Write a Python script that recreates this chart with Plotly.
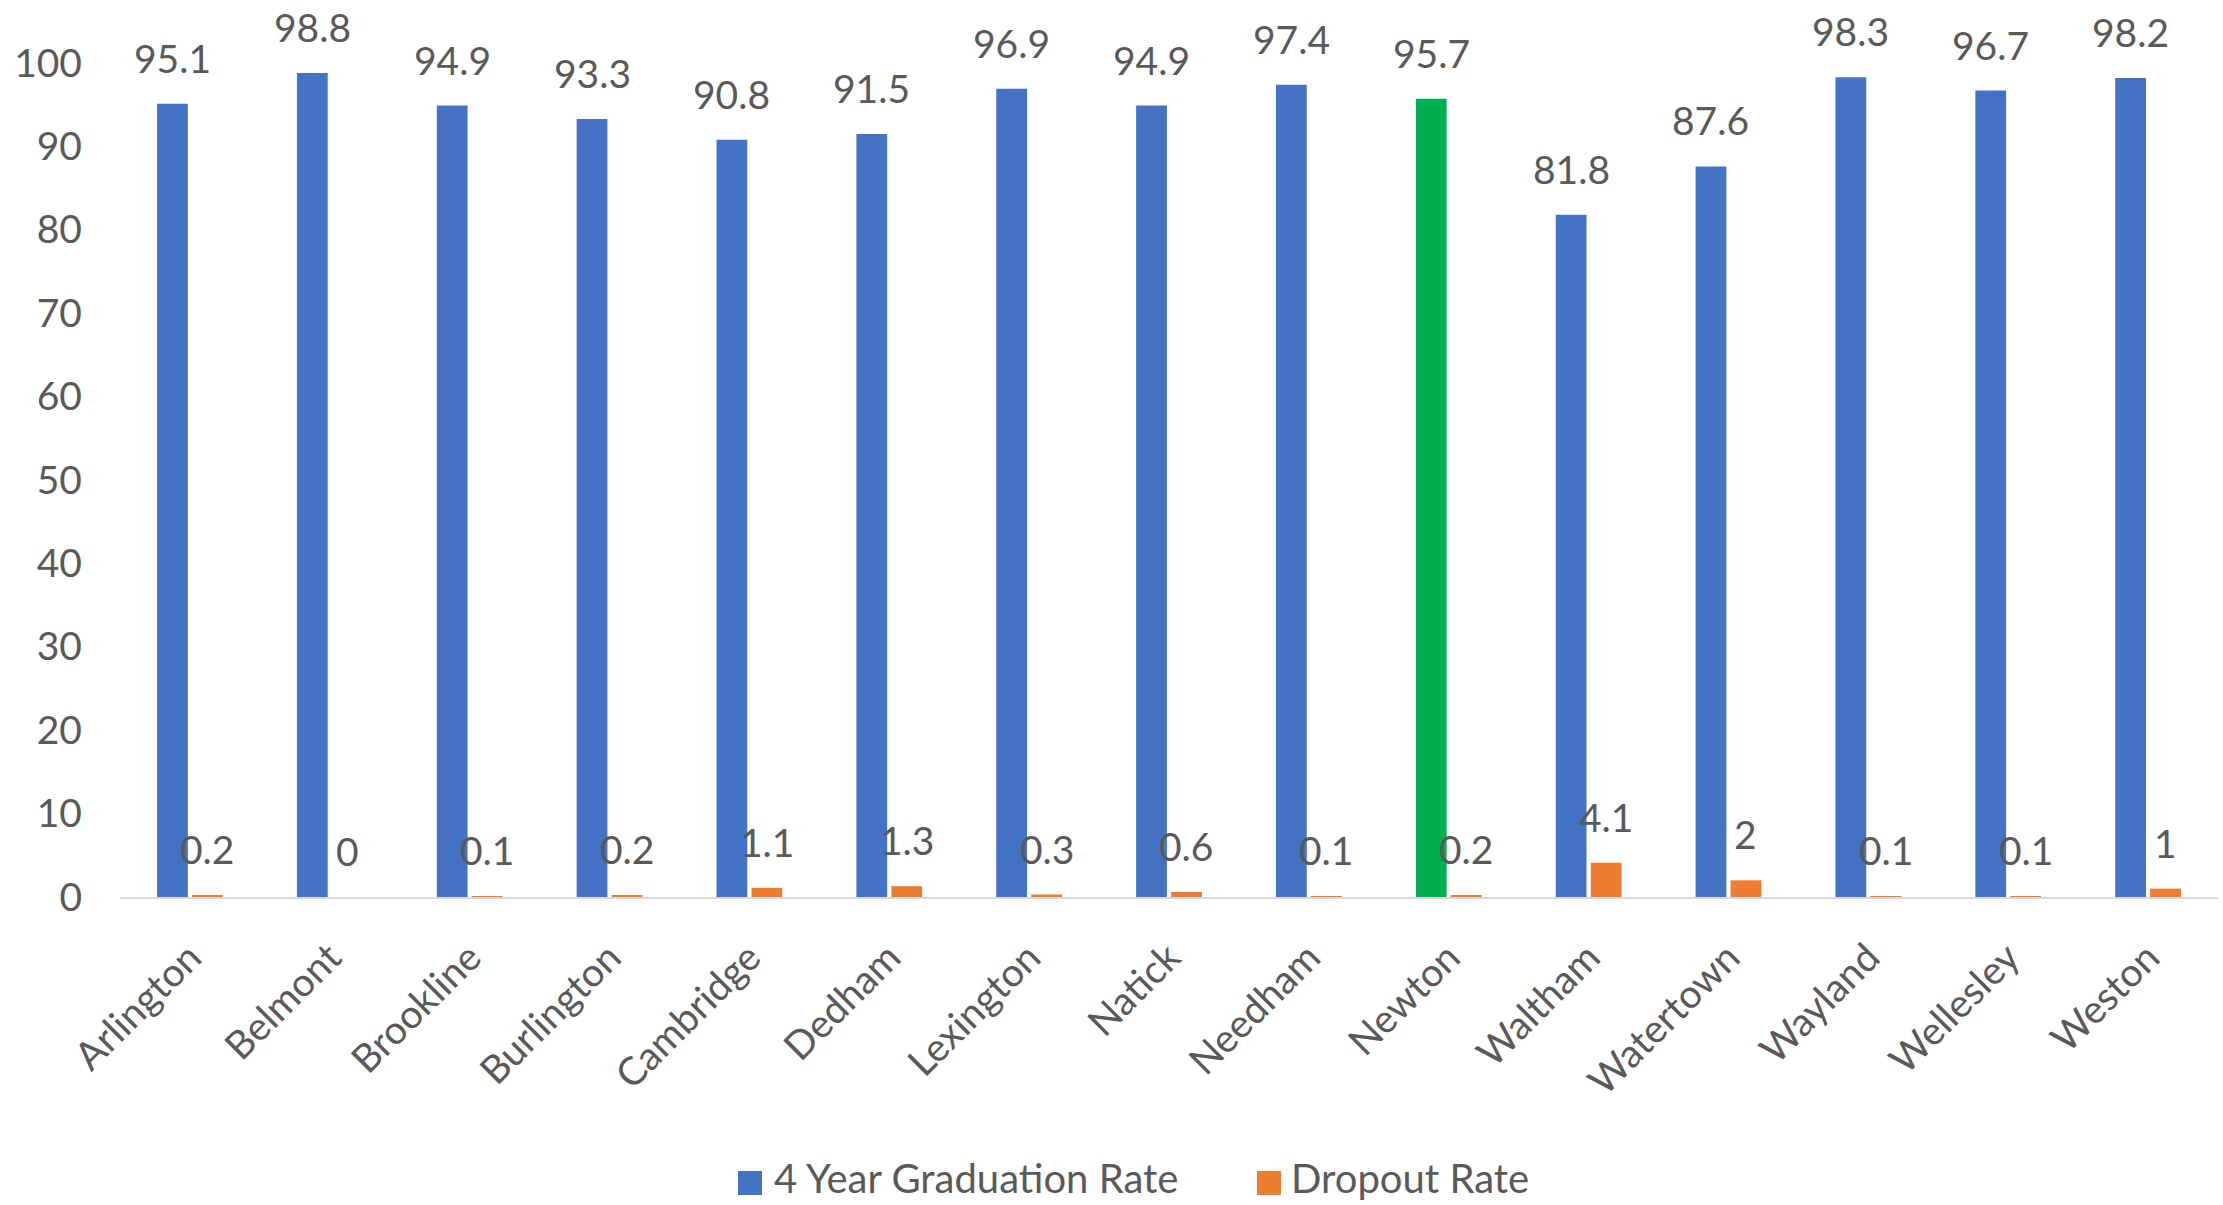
import plotly.graph_objects as go

categories = ["Arlington", "Belmont", "Brookline", "Burlington", "Cambridge", "Dedham",
              "Lexington", "Natick", "Needham", "Newton", "Waltham", "Watertown",
              "Wayland", "Wellesley", "Weston"]
grad_rate = [95.1, 98.8, 94.9, 93.3, 90.8, 91.5, 96.9, 94.9, 97.4, 95.7, 81.8, 87.6, 98.3, 96.7, 98.2]
dropout_rate = [0.2, 0, 0.1, 0.2, 1.1, 1.3, 0.3, 0.6, 0.1, 0.2, 4.1, 2, 0.1, 0.1, 1]
highlight = "Newton"
y_ticks = [0, 10, 20, 30, 40, 50, 60, 70, 80, 90, 100]
series_names = ["4 Year Graduation Rate", "Dropout Rate"]

BLUE = "#4472C4"
ORANGE = "#ED7D31"
GREEN = "#00B050"
TEXT = "#595959"
FONT = "Lato"
FS = 39

W, H = 2223, 1205
ML, MR, MT, MB = 120, 5, 63, 308
BARGAP = 0.5
GROUPGAP = 0.12

grad_colors = [GREEN if c == highlight else BLUE for c in categories]

fig = go.Figure()
fig.add_trace(go.Bar(x=categories, y=grad_rate, name=series_names[0],
                     marker=dict(color=grad_colors, line=dict(width=0)), showlegend=False))
fig.add_trace(go.Bar(x=categories, y=dropout_rate, name=series_names[1],
                     marker=dict(color=ORANGE, line=dict(width=0)), showlegend=False))

plot_w = W - ML - MR
plot_h = H - MT - MB
cat_px = plot_w / len(categories)
shift = cat_px * (1 - BARGAP) / 4

annotations = []
for c, g, d in zip(categories, grad_rate, dropout_rate):
    for val, xs in ((g, -shift), (d, shift)):
        annotations.append(dict(x=c, y=val, xref="x", yref="y", text=f"{val:g}",
                                showarrow=False, xshift=xs, yshift=21, yanchor="bottom",
                                xanchor="center", font=dict(family=FONT, size=FS, color=TEXT)))

# legend drawn as squares + text (paper coordinates)
def px_to_paper_x(px):
    return (px - ML) / plot_w

def px_to_paper_y(py):
    return (H - MB - py) / plot_h

shapes = []
legend_items = [(738, 772, BLUE, series_names[0]), (1257, 1289, ORANGE, series_names[1])]
for sq_x, tx, col, name in legend_items:
    shapes.append(dict(type="rect", xref="paper", yref="paper",
                       x0=px_to_paper_x(sq_x), x1=px_to_paper_x(sq_x + 24),
                       y0=px_to_paper_y(1195), y1=px_to_paper_y(1171),
                       fillcolor=col, line=dict(width=0)))
    annotations.append(dict(x=px_to_paper_x(tx), y=px_to_paper_y(1178), xref="paper", yref="paper",
                            text=name, showarrow=False, xanchor="left", yanchor="middle",
                            font=dict(family=FONT, size=40, color=TEXT)))

fig.update_layout(
    width=W, height=H,
    margin=dict(l=ML, r=MR, t=MT, b=MB, pad=0),
    paper_bgcolor="white", plot_bgcolor="white",
    barmode="group", bargap=BARGAP, bargroupgap=GROUPGAP,
    font=dict(family=FONT, size=FS, color=TEXT),
    annotations=annotations, shapes=shapes,
    showlegend=False,
    xaxis=dict(type="category", tickangle=-45, showline=True, linecolor="#D9D9D9", linewidth=2,
               showgrid=False, ticks="", ticklabelstandoff=20, automargin=False,
               tickfont=dict(family=FONT, size=FS, color=TEXT)),
    yaxis=dict(range=[0, 100], tickvals=y_ticks, showgrid=False, zeroline=False, showline=False,
               ticks="", ticklabelstandoff=37, automargin=False,
               tickfont=dict(family=FONT, size=FS, color=TEXT)),
)
fig.write_html("out.html", config={"displayModeBar": False},
               post_script="document.body.style.margin='0';document.body.style.overflow='hidden';")
